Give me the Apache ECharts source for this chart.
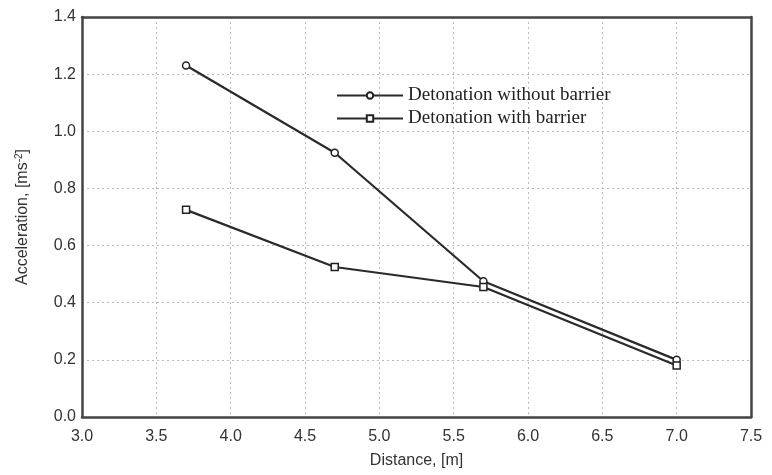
<!DOCTYPE html>
<html>
<head>
<meta charset="utf-8">
<script src="https://cdn.jsdelivr.net/npm/echarts@6/dist/echarts.min.js"></script>
<style>
html, body { margin: 0; padding: 0; background: #fff; }
#chart { width: 772px; height: 475px; }
</style>
</head>
<body>
<div id="chart"></div>
<script>
// distances (m) and accelerations
let distance = [3.7, 4.7, 5.7, 7.0];
let withoutBarrier = [1.23, 0.925, 0.475, 0.20];
let withBarrier = [0.725, 0.525, 0.455, 0.18];
let seriesNames = ['Detonation without barrier', 'Detonation with barrier'];

function pairs(xs, ys) {
    let out = [];
    for (let i = 0; i < xs.length; i++) {
        out.push([xs[i], ys[i]]);
    }
    return out;
}

let labelStyle = {
    fontFamily: 'Liberation Sans',
    fontSize: 16,
    color: '#333',
    formatter: function (v) { return v.toFixed(1); }
};
let gridLine = { show: true, lineStyle: { color: '#bbb', type: [2, 3], width: 1 } };
let frameLine = { show: true, onZero: false, lineStyle: { color: '#444', width: 2.5 } };

let chart = echarts.init(document.getElementById('chart'));
chart.setOption({
    animation: false,
    backgroundColor: '#fff',
    grid: {
        left: 82,
        right: 21,
        top: 17,
        bottom: 58
    },
    legend: {
        orient: 'vertical',
        left: 331,
        top: 81,
        itemWidth: 66,
        itemHeight: 8,
        itemGap: 4,
        textStyle: {
            fontFamily: 'Liberation Serif',
            fontSize: 19,
            color: '#222'
        },
        data: seriesNames
    },
    xAxis: [{
        type: 'value',
        min: 3.0,
        max: 7.5,
        interval: 0.5,
        name: 'Distance, [m]',
        nameLocation: 'middle',
        nameGap: 36,
        nameTextStyle: {
            fontFamily: 'Liberation Sans',
            fontSize: 16,
            color: '#333'
        },
        axisLine: frameLine,
        axisTick: { show: false },
        axisLabel: Object.assign({ margin: 12 }, labelStyle),
        splitLine: gridLine
    }, {
        type: 'value',
        position: 'top',
        min: 3.0,
        max: 7.5,
        interval: 0.5,
        axisLine: frameLine,
        axisTick: { show: false },
        axisLabel: { show: false },
        splitLine: { show: false }
    }],
    yAxis: [{
        type: 'value',
        min: 0,
        max: 1.4,
        interval: 0.2,
        name: '{a|Acceleration, [ms}{s|-2}{a|]}',
        nameLocation: 'middle',
        nameGap: 50,
        nameTextStyle: {
            rich: {
                a: { fontFamily: 'Liberation Sans', fontSize: 16, color: '#333' },
                s: { fontFamily: 'Liberation Sans', fontSize: 10, color: '#333', verticalAlign: 'top', padding: [0, 0, 8, 0] }
            }
        },
        axisLine: frameLine,
        axisTick: { show: false },
        axisLabel: Object.assign({ margin: 6 }, labelStyle),
        splitLine: gridLine
    }, {
        type: 'value',
        position: 'right',
        min: 0,
        max: 1.4,
        interval: 0.2,
        axisLine: frameLine,
        axisTick: { show: false },
        axisLabel: { show: false },
        splitLine: { show: false }
    }],
    series: [
        {
            name: seriesNames[0],
            type: 'line',
            data: pairs(distance, withoutBarrier),
            symbol: 'circle',
            symbolSize: 7,
            color: '#333',
            lineStyle: { color: '#2a2a2a', width: 2.2 },
            itemStyle: { color: '#fff', borderColor: '#222', borderWidth: 1.5 }
        },
        {
            name: seriesNames[1],
            type: 'line',
            data: pairs(distance, withBarrier),
            symbol: 'rect',
            symbolSize: 7,
            color: '#333',
            lineStyle: { color: '#2a2a2a', width: 2.2 },
            itemStyle: { color: '#fff', borderColor: '#222', borderWidth: 1.5 }
        }
    ]
});
</script>
</body>
</html>
